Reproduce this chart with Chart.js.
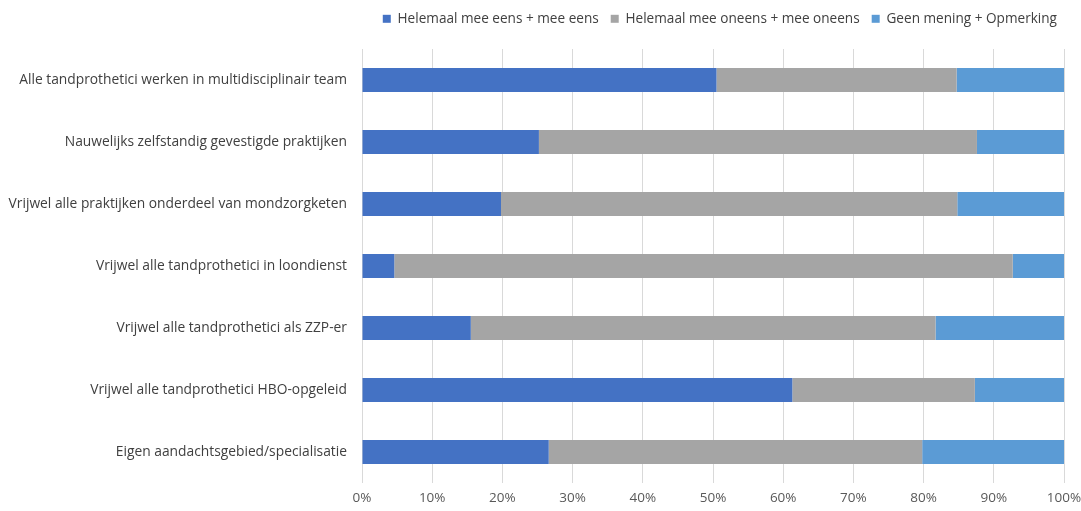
<!DOCTYPE html>
<html>
<head>
<meta charset="utf-8">
<script src="https://cdn.jsdelivr.net/npm/chart.js@4"></script>
<style>
  html, body { margin: 0; padding: 0; background: #fff; }
  #wrap { width: 1081px; height: 511px; }
</style>
</head>
<body>
<div id="wrap"><canvas id="chart" width="1081" height="511"></canvas></div>
<script>
// Statements (top to bottom)
const categories = [
    'Alle tandprothetici werken in multidisciplinair team',
    'Nauwelijks zelfstandig gevestigde praktijken',
    'Vrijwel alle praktijken onderdeel van mondzorgketen',
    'Vrijwel alle tandprothetici in loondienst',
    'Vrijwel alle tandprothetici als ZZP-er',
    'Vrijwel alle tandprothetici HBO-opgeleid',
    'Eigen aandachtsgebied/specialisatie'
];

// Shares in percent
const eens = [50.5, 25.2, 19.8, 4.6, 15.5, 61.3, 26.6];
const oneens = [34.2, 62.4, 65.0, 88.1, 66.2, 26.0, 53.2];
const geenMening = [15.3, 12.4, 15.2, 7.3, 18.3, 12.7, 20.2];

const seriesLabels = [
    'Helemaal mee eens + mee eens',
    'Helemaal mee oneens + mee oneens',
    'Geen mening + Opmerking'
];

const fontFamily = "'Open Sans', 'Liberation Sans', sans-serif";

// keep the legend band a fixed height so the plot starts where the original does,
// and nudge it a little to the right
const legendPlacement = {
    id: 'legendPlacement',
    afterInit(chart) {
        const legend = chart.legend;
        const origFit = legend.fit;
        legend.fit = function() {
            origFit.call(this);
            this.height = 49;
        };
    },
    afterLayout(chart) {
        chart.legend.left += 5;
        chart.legend.right += 5;
    }
};

const ctx = document.getElementById('chart').getContext('2d');
new Chart(ctx, {
    type: 'bar',
    data: {
        labels: categories,
        datasets: [{
            label: seriesLabels[0],
            data: eens,
            backgroundColor: '#4472C4'
        }, {
            label: seriesLabels[1],
            data: oneens,
            backgroundColor: '#A5A5A5'
        }, {
            label: seriesLabels[2],
            data: geenMening,
            backgroundColor: '#5B9BD5'
        }]
    },
    options: {
        indexAxis: 'y',
        responsive: false,
        animation: false,
        datasets: {
            bar: {
                categoryPercentage: 1.0,
                barPercentage: 0.39
            }
        },
        layout: {
            padding: { top: 0, right: 17, bottom: 0, left: 0 }
        },
        scales: {
            x: {
                stacked: true,
                min: 0,
                max: 100,
                afterFit: function(scale) {
                    scale.paddingLeft = 0;
                    scale.paddingRight = 0;
                    scale.height = 28;
                },
                ticks: {
                    stepSize: 10,
                    color: '#595959',
                    font: { family: fontFamily, size: 13.5 },
                    padding: 7,
                    callback: function(value) {
                        return value + '%';
                    }
                },
                grid: {
                    color: '#d9d9d9',
                    lineWidth: 1,
                    drawTicks: false
                },
                border: { display: false }
            },
            y: {
                stacked: true,
                afterFit: function(scale) {
                    scale.width = 362;
                },
                ticks: {
                    color: '#404040',
                    font: { family: fontFamily, size: 13.8 },
                    padding: 7
                },
                grid: { display: false },
                border: { display: false }
            }
        },
        plugins: {
            legend: {
                position: 'top',
                align: 'end',
                labels: {
                    boxWidth: 8,
                    boxHeight: 8,
                    color: '#404040',
                    padding: 12,
                    font: { family: fontFamily, size: 13.6 }
                }
            },
            tooltip: { enabled: false }
        }
    },
    plugins: [legendPlacement]
});
</script>
</body>
</html>
